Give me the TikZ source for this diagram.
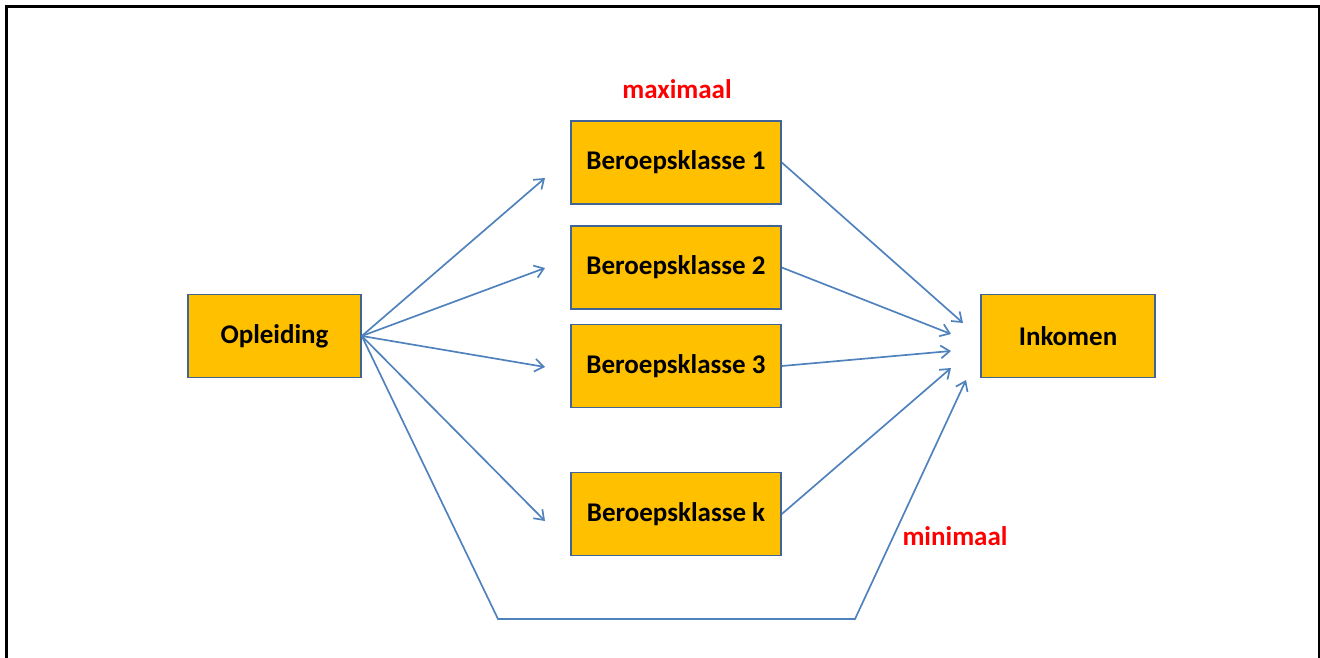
\documentclass[tikz,border=0pt]{standalone}
\usepackage{fontspec}
\setmainfont{Carlito}
\usetikzlibrary{arrows.meta}

\definecolor{pijl}{RGB}{79,129,189}
\definecolor{vak}{RGB}{255,192,0}
\definecolor{rand}{RGB}{65,100,150}

\tikzset{
  blok/.style={draw=rand, fill=vak, line width=0.4mm, minimum height=20.8mm, inner sep=0pt, font=\fontsize{19.2}{21}\selectfont\bfseries},
  pijlen/.style={draw=pijl, line width=0.42mm, -{Straight Barb[length=2.2mm, width=3.2mm]}},
  label/.style={text=red, font=\fontsize{19.2}{21}\selectfont\bfseries}
}

\begin{document}
\begin{tikzpicture}[x=0.25mm, y=-0.25mm]
\useasboundingbox (0,0) rectangle (1320,657);
% Kader
\draw[line width=0.75mm] (6,662) -- (6,7) -- (1319,7) -- (1319,662);

% Blokken
\node[blok, minimum width=43.25mm] (opl) at (274.5,336) {Opleiding};
\node[blok, minimum width=52.5mm] (b1) at (676,162.5) {Beroepsklasse 1};
\node[blok, minimum width=52.5mm] (b2) at (676,267.5) {Beroepsklasse 2};
\node[blok, minimum width=52.5mm] (b3) at (676,366) {Beroepsklasse 3};
\node[blok, minimum width=52.5mm] (bk) at (676,514) {Beroepsklasse k};
\node[blok, minimum width=43.5mm] (ink) at (1068,336) {Inkomen};

% Teksten
\node[label] (max) at (677,89) {maximaal};
\node[label] (min) at (955,536) {minimaal};

% Eindpunten
\coordinate (e1) at (545,178);
\coordinate (e2) at (545,268);
\coordinate (e3) at (545,367);
\coordinate (ek) at (545,521);
\coordinate (i1) at (963,323);
\coordinate (i2) at (951,334);
\coordinate (i3) at (951,351);
\coordinate (ik) at (951,368);
\coordinate (i0) at (966,380);
\coordinate (h1) at (498,619);
\coordinate (h2) at (855,619);

% Pijlen links
\draw[pijlen] (opl.east) -- (e1);
\draw[pijlen] (opl.east) -- (e2);
\draw[pijlen] (opl.east) -- (e3);
\draw[pijlen] (opl.east) -- (ek);

% Pijlen rechts
\draw[pijlen] (b1.east) -- (i1);
\draw[pijlen] (b2.east) -- (i2);
\draw[pijlen] (b3.east) -- (i3);
\draw[pijlen] (bk.east) -- (ik);

% Directe weg
\draw[pijlen] (opl.east) -- (h1) -- (h2) -- (i0);
\end{tikzpicture}
\end{document}
